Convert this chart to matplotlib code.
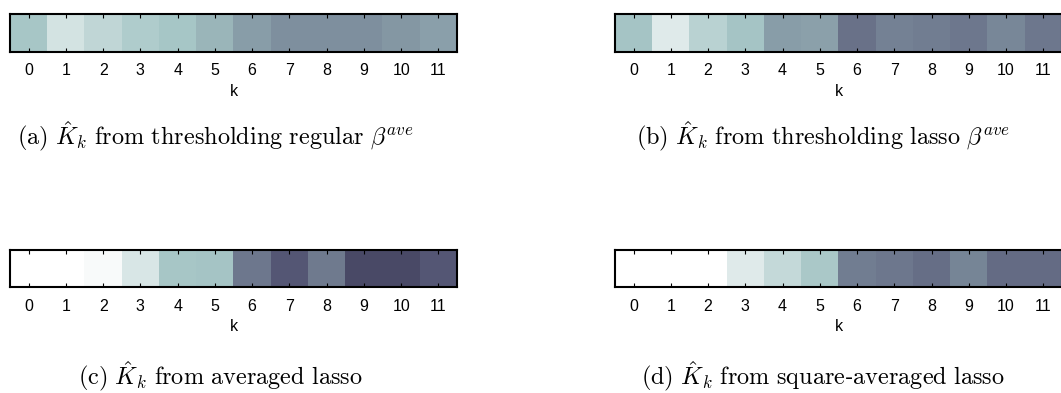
import numpy as np
import matplotlib.pyplot as plt

k = np.arange(12)
tick_labels = [str(i) for i in k]

# K_hat values per k (0 = white, 1 = darkest)
K_thresh_regular = [0.25, 0.125, 0.18, 0.23, 0.255, 0.31, 0.39, 0.43, 0.43, 0.43, 0.41, 0.38]
K_thresh_lasso = [0.26, 0.09, 0.20, 0.26, 0.39, 0.375, 0.53, 0.48, 0.49, 0.51, 0.46, 0.51]
K_avg_lasso = [0.0, 0.0, 0.02, 0.11, 0.25, 0.26, 0.51, 0.62, 0.50, 0.67, 0.67, 0.62]
K_sqavg_lasso = [0.0, 0.0, 0.0, 0.09, 0.17, 0.245, 0.49, 0.51, 0.54, 0.465, 0.55, 0.55]

captions = [
    r"$\mathrm{(a)}\ \hat{K}_k\ \mathrm{from\ thresholding\ regular}\ \beta^{ave}$",
    r"$\mathrm{(b)}\ \hat{K}_k\ \mathrm{from\ thresholding\ lasso}\ \beta^{ave}$",
    r"$\mathrm{(c)}\ \hat{K}_k\ \mathrm{from\ averaged\ lasso}$",
    r"$\mathrm{(d)}\ \hat{K}_k\ \mathrm{from\ square}$-$\mathrm{averaged\ lasso}$",
]

plt.rcParams['mathtext.fontset'] = 'cm'
plt.rcParams['font.family'] = 'Liberation Sans'
plt.rcParams['xtick.direction'] = 'in'

W, H = 1061, 393
fig = plt.figure(figsize=(W / 100, H / 100), dpi=100)

# axes boxes in pixels: left, top, width, height
boxes = [(10, 14, 447, 37.5), (615, 14, 447, 37.5),
         (10, 249.5, 447, 37.5), (615, 249.5, 447, 37.5)]
# caption centre x and baseline y, pixels
cap_pos = [(215, 144), (823, 144), (220, 384), (823, 384)]
data = [K_thresh_regular, K_thresh_lasso, K_avg_lasso, K_sqavg_lasso]

for vals, (l, t, w, h), cap, (cx, cy) in zip(data, boxes, captions, cap_pos):
    ax = fig.add_axes([l / W, 1 - (t + h) / H, w / W, h / H])
    ax.imshow(np.array(vals)[np.newaxis, :], cmap='bone_r', vmin=0, vmax=1,
              aspect='auto', interpolation='nearest')
    ax.set_xticks(k)
    ax.set_xticklabels(tick_labels, fontsize=11.5)
    ax.set_yticks([])
    ax.tick_params(axis='x', top=True, length=3, width=0.8, pad=8.5)
    for s in ax.spines.values():
        s.set_linewidth(1.5)
    ax.set_xlabel("k", fontsize=11.5, labelpad=4)
    fig.text(cx / W, 1 - cy / H, cap, ha='center', va='baseline', fontsize=17.5)

fig.savefig("out.png", dpi=100)
